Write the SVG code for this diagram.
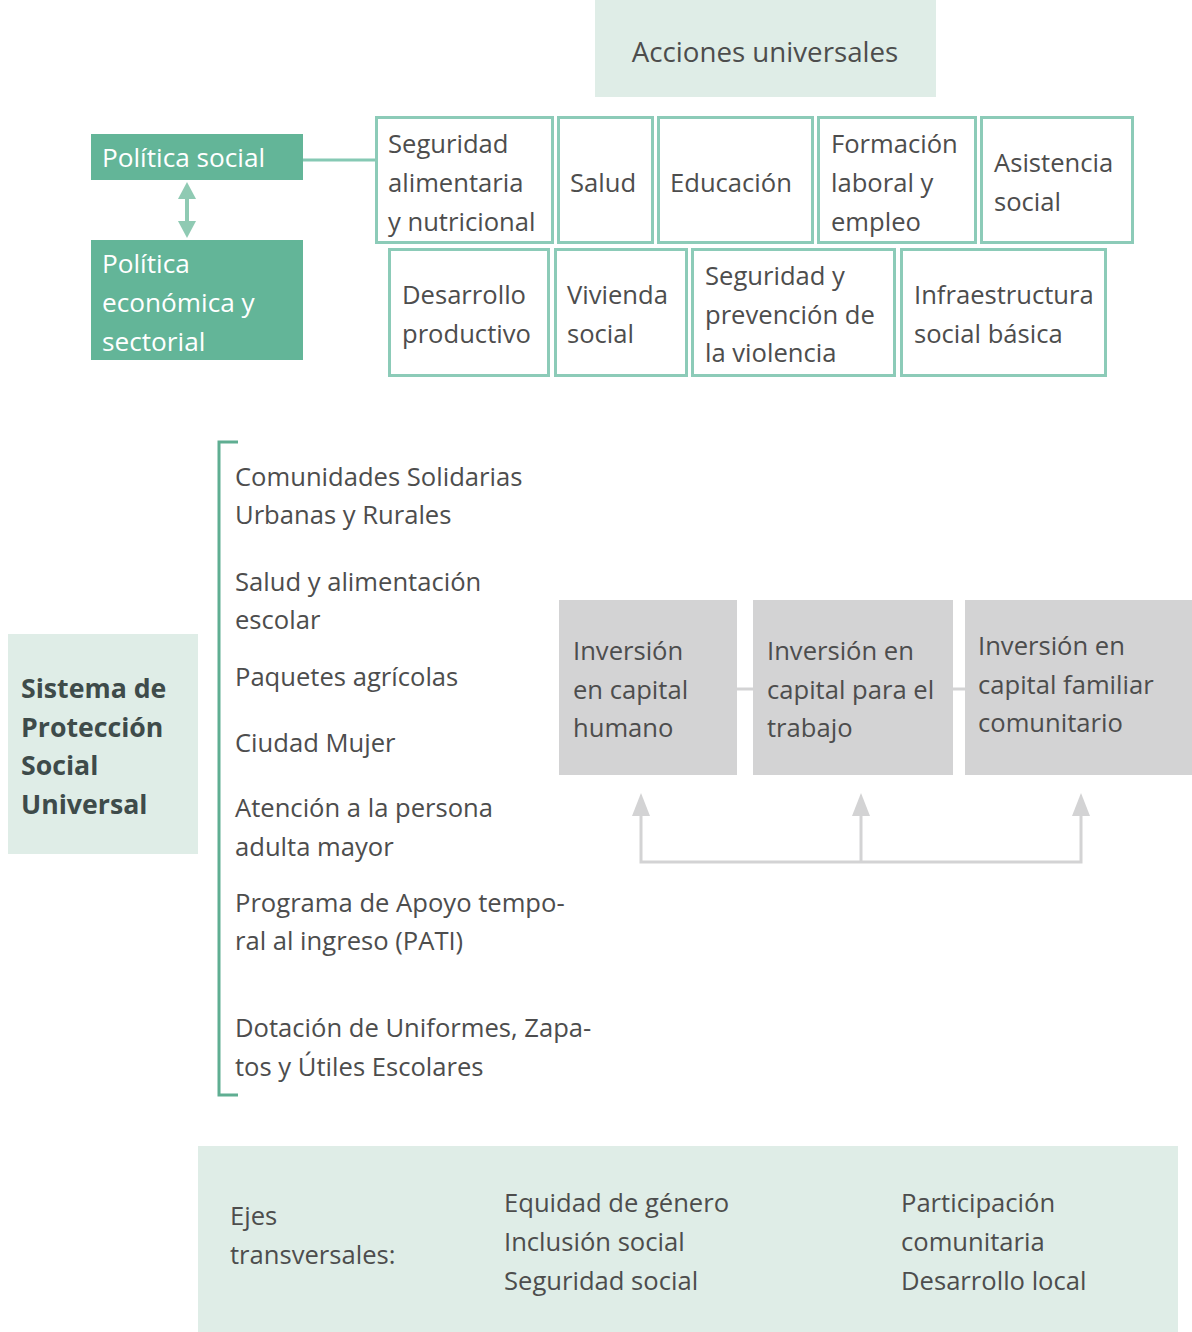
<svg xmlns="http://www.w3.org/2000/svg" width="1192" height="1332" viewBox="0 0 1192 1332">
<style>
.t{font-family:"Open Sans","Noto Sans",sans-serif;font-size:25.6px;fill:#4d4d4d}
.w{font-family:"Open Sans","Noto Sans",sans-serif;font-size:26.2px;fill:#ffffff}
.b{font-family:"Open Sans","Noto Sans",sans-serif;font-size:26.7px;font-weight:bold;fill:#3e4b4a}
.c{font-family:"Open Sans","Noto Sans",sans-serif;font-size:25.6px;fill:#4d4d4d}
.ob{fill:#ffffff;stroke:#8ccbb8;stroke-width:3}
.gb{fill:#d3d3d4}
.lb{fill:#dfede7}
.gr{fill:#63b598}
</style>
<rect width="1192" height="1332" fill="#ffffff"/>

<g id="acciones">
<rect class="lb" x="595" y="0" width="341" height="97"/>
<text class="t" x="765" y="62" text-anchor="middle" style="font-size:27.7px">Acciones universales</text>
</g>

<g id="connectors">
<line x1="303" y1="160" x2="376" y2="160" stroke="#86c9b4" stroke-width="3"/>
<line x1="187" y1="195" x2="187" y2="225" stroke="#8fcab3" stroke-width="4"/>
<polygon points="187,182 178,199 196,199" fill="#8fcab3"/>
<polygon points="187,238 178,221 196,221" fill="#8fcab3"/>
<line x1="737" y1="689" x2="753" y2="689" stroke="#d3d3d4" stroke-width="3"/>
<line x1="953" y1="689" x2="965" y2="689" stroke="#d3d3d4" stroke-width="3"/>
<polyline points="641,810 641,862 1081,862 1081,810" fill="none" stroke="#d3d3d4" stroke-width="3"/>
<line x1="861" y1="810" x2="861" y2="862" stroke="#d3d3d4" stroke-width="3"/>
<polygon points="641,793 632,816 650,816" fill="#d3d3d4"/>
<polygon points="861,793 852,816 870,816" fill="#d3d3d4"/>
<polygon points="1081,793 1072,816 1090,816" fill="#d3d3d4"/>
<polyline points="238,442 219,442 219,1095 238,1095" fill="none" stroke="#5fae92" stroke-width="3"/>
</g>

<g id="politica-social">
<rect class="gr" x="91" y="134" width="212" height="46"/>
<text class="w" x="102" y="167">Política social</text>
</g>
<g id="politica-economica">
<rect class="gr" x="91" y="240" width="212" height="120"/>
<text class="w" x="102" y="273">Política</text>
<text class="w" x="102" y="312">económica y</text>
<text class="w" x="102" y="351">sectorial</text>
</g>

<g id="seguridad-alimentaria">
<rect class="ob" x="376.5" y="117.5" width="176" height="125"/>
<text class="t" x="388" y="153">Seguridad</text>
<text class="t" x="388" y="192">alimentaria</text>
<text class="t" x="388" y="231">y nutricional</text>
</g>
<g id="salud">
<rect class="ob" x="558.5" y="117.5" width="94" height="125"/>
<text class="t" x="570" y="192">Salud</text>
</g>
<g id="educacion">
<rect class="ob" x="658.5" y="117.5" width="154" height="125"/>
<text class="t" x="670" y="192">Educación</text>
</g>
<g id="formacion">
<rect class="ob" x="818.5" y="117.5" width="157" height="125"/>
<text class="t" x="831" y="153">Formación</text>
<text class="t" x="831" y="192">laboral y</text>
<text class="t" x="831" y="231">empleo</text>
</g>
<g id="asistencia">
<rect class="ob" x="981.5" y="117.5" width="151" height="125"/>
<text class="t" x="994" y="172">Asistencia</text>
<text class="t" x="994" y="211">social</text>
</g>
<g id="desarrollo">
<rect class="ob" x="389.5" y="249.5" width="159" height="126"/>
<text class="t" x="402" y="304">Desarrollo</text>
<text class="t" x="402" y="343">productivo</text>
</g>
<g id="vivienda">
<rect class="ob" x="555.5" y="249.5" width="131" height="126"/>
<text class="t" x="567" y="304">Vivienda</text>
<text class="t" x="567" y="343">social</text>
</g>
<g id="seguridad-violencia">
<rect class="ob" x="692.5" y="249.5" width="202" height="126"/>
<text class="t" x="705" y="285">Seguridad y</text>
<text class="t" x="705" y="324">prevención de</text>
<text class="t" x="705" y="362">la violencia</text>
</g>
<g id="infraestructura">
<rect class="ob" x="901.5" y="249.5" width="204" height="126"/>
<text class="t" x="914" y="304">Infraestructura</text>
<text class="t" x="914" y="343">social básica</text>
</g>

<g id="sistema">
<rect class="lb" x="8" y="634" width="190" height="220"/>
<text class="b" x="21" y="698">Sistema de</text>
<text class="b" x="21" y="737">Protección</text>
<text class="b" x="21" y="775">Social</text>
<text class="b" x="21" y="814">Universal</text>
</g>

<g id="programas">
<text class="t" x="235" y="486">Comunidades Solidarias</text>
<text class="t" x="235" y="524">Urbanas y Rurales</text>
<text class="t" x="235" y="591">Salud y alimentación</text>
<text class="t" x="235" y="629">escolar</text>
<text class="t" x="235" y="686">Paquetes agrícolas</text>
<text class="t" x="235" y="752">Ciudad Mujer</text>
<text class="t" x="235" y="817">Atención a la persona</text>
<text class="t" x="235" y="856">adulta mayor</text>
<text class="t" x="235" y="912">Programa de Apoyo tempo-</text>
<text class="t" x="235" y="950">ral al ingreso (PATI)</text>
<text class="t" x="235" y="1037">Dotación de Uniformes, Zapa-</text>
<text class="t" x="235" y="1076">tos y Útiles Escolares</text>
</g>

<g id="inversion-humano">
<rect class="gb" x="559" y="600" width="178" height="175"/>
<text class="t" x="573" y="660">Inversión</text>
<text class="t" x="573" y="699">en capital</text>
<text class="t" x="573" y="737">humano</text>
</g>
<g id="inversion-trabajo">
<rect class="gb" x="753" y="600" width="200" height="175"/>
<text class="t" x="767" y="660">Inversión en</text>
<text class="t" x="767" y="699">capital para el</text>
<text class="t" x="767" y="737">trabajo</text>
</g>
<g id="inversion-familiar">
<rect class="gb" x="965" y="600" width="227" height="175"/>
<text class="t" x="978" y="655">Inversión en</text>
<text class="t" x="978" y="694">capital familiar</text>
<text class="t" x="978" y="732">comunitario</text>
</g>

<g id="ejes">
<rect class="lb" x="198" y="1146" width="980" height="186"/>
<text class="c" x="230" y="1225">Ejes</text>
<text class="c" x="230" y="1264">transversales:</text>
<text class="c" x="504" y="1212">Equidad de género</text>
<text class="c" x="504" y="1251">Inclusión social</text>
<text class="c" x="504" y="1290">Seguridad social</text>
<text class="c" x="901" y="1212">Participación</text>
<text class="c" x="901" y="1251">comunitaria</text>
<text class="c" x="901" y="1290">Desarrollo local</text>
</g>
</svg>
